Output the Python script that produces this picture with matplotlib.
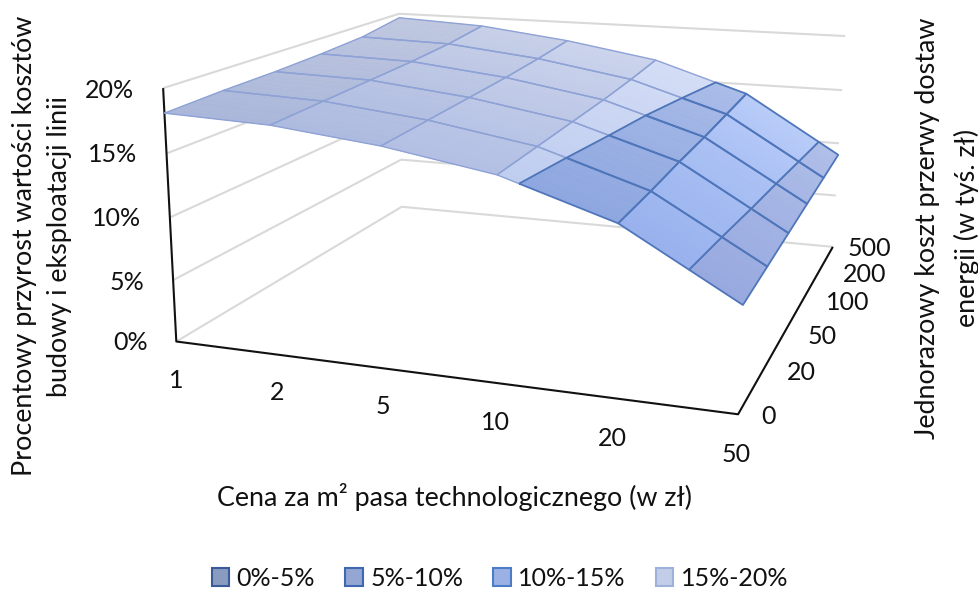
import numpy as np
import matplotlib
matplotlib.use("Agg")
import matplotlib.pyplot as plt
from matplotlib.colors import to_rgb
from matplotlib.patches import Patch
from mpl_toolkits.mplot3d.art3d import Poly3DCollection, Line3DCollection

plt.rcParams['font.family'] = ['Lato', 'DejaVu Sans']

# ---- data ----
price_labels = ['1', '2', '5', '10', '20', '50']
outage_labels = ['0', '20', '50', '100', '200', '500']
pct_labels = ['0%', '5%', '10%', '15%', '20%']
band_labels = ['0%-5%', '5%-10%', '10%-15%', '15%-20%']
z_outage_0 = [18.1, 17.8, 16.9, 15.5, 12.8, 7.9]
z_outage_20 = [18.3, 18.0, 17.1, 15.7, 13.0, 8.1]
z_outage_50 = [18.4, 18.2, 17.3, 15.9, 13.3, 8.3]
z_outage_100 = [18.6, 18.4, 17.5, 16.1, 13.5, 8.5]
z_outage_200 = [18.9, 18.7, 17.8, 16.4, 13.8, 8.7]
z_outage_500 = [19.6, 19.2, 18.2, 16.8, 14.1, 8.9]
Z = np.array([z_outage_0, z_outage_20, z_outage_50, z_outage_100, z_outage_200, z_outage_500])
pct_values = [0, 5, 10, 15, 20]

W, H = 979, 591
FS = 18
FS_TITLE = 19.4

# ---- camera: world (price idx, outage idx, pct) -> image pixels ----
cam_world = [(0,0,0),(5,0,0),(5,5,0),(0,5,0),(0,0,20),(0,5,20),(5,5,20),(0,5,5),
             (0,0,5),(0,0,10),(0,0,15),(5,5,5),(5,5,10),(5,5,15)]
cam_px = [(176,342),(738,414),(833,247),(402,206),(162,88),(400,14),(845,36),(400,160),
          (174,280),(170,218),(167,153),(836,196),(839,143),(842,90)]
rows, rhs = [], []
for (x, y, z), (u, v) in zip(cam_world, cam_px):
    rows.append([x, y, z, 1, 0, 0, 0, 0, -u*x, -u*y, -u*z]); rhs.append(u)
    rows.append([0, 0, 0, 0, x, y, z, 1, -v*x, -v*y, -v*z]); rhs.append(v)
p = np.linalg.lstsq(np.array(rows, float), np.array(rhs, float), rcond=None)[0]
P0, P1, P2 = p[:4], p[4:8], np.r_[p[8:], 1.0]

fig = plt.figure(figsize=(W/100, H/100), dpi=100)
ax = fig.add_axes([0, 0, 1, 1], projection='3d', computed_zorder=False)
ax.set_axis_off()
ax.apply_aspect = lambda position=None: None
vl = ax.viewLim
sx = (vl.x1 - vl.x0) / W
sy = (vl.y1 - vl.y0) / H
M = np.array([vl.x0*P2 + sx*P0,
              vl.y1*P2 - sy*P1,
              [0, 1.0, 0, 0],
              P2])
ax.get_proj = lambda: M

# ---- walls ----
GRID = '#d9d9d9'
AX = '#111111'
wall_segs = []
for pv in pct_values:
    wall_segs.append([(0, 0, pv), (0, 5, pv), (5, 5, pv)])
ax.add_collection3d(Line3DCollection(wall_segs, colors=GRID, linewidths=1.5, zorder=3), autolim=False)
ax.add_collection3d(Line3DCollection([[(0, 0, 20), (0, 0, 0), (5, 0, 0), (5, 5, 0)]],
                                     colors=AX, linewidths=1.5, zorder=4), autolim=False)

# ---- surface, cut into bands ----
def clip(poly, axis, lo, hi):
    for bound, sign in ((lo, 1), (hi, -1)):
        out = []
        n = len(poly)
        for k in range(n):
            a, b = poly[k], poly[(k+1) % n]
            da, db = sign*(a[axis]-bound), sign*(b[axis]-bound)
            if da >= 0:
                out.append(a)
            if da*db < 0:
                t = da/(da-db)
                out.append(tuple(np.array(a) + t*(np.array(b)-np.array(a))))
        poly = out
        if not poly:
            return []
    return poly

band_lims = [(0, 5), (5, 10), (10, 15), (15, 20)]
front = {3: ['#aab7da', '#aebbe0', '#b3c0e4', '#bfcdef', '#bfcdef'],
         2: ['#8ea7e0', '#8ea7e0', '#8ea7e0', '#8ea7e0', '#98b2ee'],
         1: ['#98a9e0', '#98a9e0', '#98a9e0', '#98a9e0', '#98a9e0'],
         0: ['#8a9bc0', '#8a9bc0', '#8a9bc0', '#8a9bc0', '#8a9bc0']}
back = {3: ['#c0c8e0', '#c8d0e8', '#ccd4ec', '#d4ddf6', '#d4ddf6'],
        2: ['#aabce8', '#aabce8', '#aabce8', '#aabce8', '#b9ccf9'],
        1: ['#b0bfe8', '#b0bfe8', '#b0bfe8', '#b0bfe8', '#b0bfe8'],
        0: ['#a0aed0', '#a0aed0', '#a0aed0', '#a0aed0', '#a0aed0']}
edges = {3: '#8ea2d6', 2: '#4f76ba', 1: '#4f76ba', 0: '#3b5a9a'}
STRIPS = 6
for order, b in enumerate((3, 0, 1, 2)):
    lo, hi = band_lims[b]
    fills, cols, outlines = [], [], []
    for j in range(5):
        for i in range(5):
            cell = [(i, j, Z[j, i]), (i+1, j, Z[j, i+1]), (i+1, j+1, Z[j+1, i+1]), (i, j+1, Z[j+1, i])]
            c = clip(cell, 2, lo, hi)
            if len(c) < 3:
                continue
            outlines.append(np.array(list(c) + [c[0]]))
            for s in range(STRIPS):
                y0, y1 = j + s/STRIPS, j + (s+1)/STRIPS
                st = clip(c, 1, y0, y1)
                if len(st) >= 3:
                    fills.append(np.array(st))
                    t = (y0 + y1) / 2 / 5
                    cols.append(tuple((1-t)*np.array(to_rgb(front[b][i])) + t*np.array(to_rgb(back[b][i]))))
    if fills:
        ax.add_collection3d(Poly3DCollection(fills, facecolors=cols, edgecolors=cols, linewidths=0.4,
                                             zorder=5+2*order), autolim=False)
        ax.add_collection3d(Line3DCollection(outlines, colors=edges[b],
                                             linewidths=1.0 if b == 3 else 1.3, zorder=6+2*order), autolim=False)

# ---- text ----
def T(x, y, s, **kw):
    kw.setdefault('ha', 'center'); kw.setdefault('va', 'center')
    kw.setdefault('fontsize', FS); kw.setdefault('color', '#111111')
    fig.text(x/W, 1-y/H, s, **kw)

for s, xy in zip(price_labels, [(176,380),(277,393),(383,407),(495,423),(612,438),(736,454)]):
    T(*xy, s)
for s, xy in zip(outage_labels, [(769,416),(801,373),(822,337),(848,303),(865,274),(869,248)]):
    T(*xy, s)
for s, xy in zip(pct_labels, [(148,342),(144,282),(141,219),(137,155),(134,90)]):
    T(*xy, s, ha='right')

T(25, 246, 'Procentowy przyrost wartości kosztów', rotation=90, fontsize=FS_TITLE)
T(60, 247, 'budowy i eksploatacji linii', rotation=90, fontsize=FS_TITLE)
T(928, 228, 'Jednorazowy koszt przerwy dostaw', rotation=90, fontsize=FS_TITLE)
T(967, 228, 'energii (w tyś. zł)', rotation=90, fontsize=FS_TITLE)
T(455, 497, 'Cena za m² pasa technologicznego (w zł)', fontsize=FS_TITLE)

legend_face = ['#8a9bc0', '#93a6d4', '#9bb1e4', '#c2cde8']
legend_edge = ['#3b5a9a', '#4068b0', '#4a7cc8', '#9fb0dc']
handles = [Patch(facecolor=f, edgecolor=e, linewidth=1.5, label=l)
           for f, e, l in zip(legend_face, legend_edge, band_labels)]
fig.legend(handles=handles, loc='center', bbox_to_anchor=(500/W, 1-578/H), ncol=4, frameon=False,
           fontsize=FS, handlelength=0.7, handleheight=0.7, handletextpad=0.3, columnspacing=1.2,
           labelcolor='#111111')

fig.savefig('out.png', dpi=100)
